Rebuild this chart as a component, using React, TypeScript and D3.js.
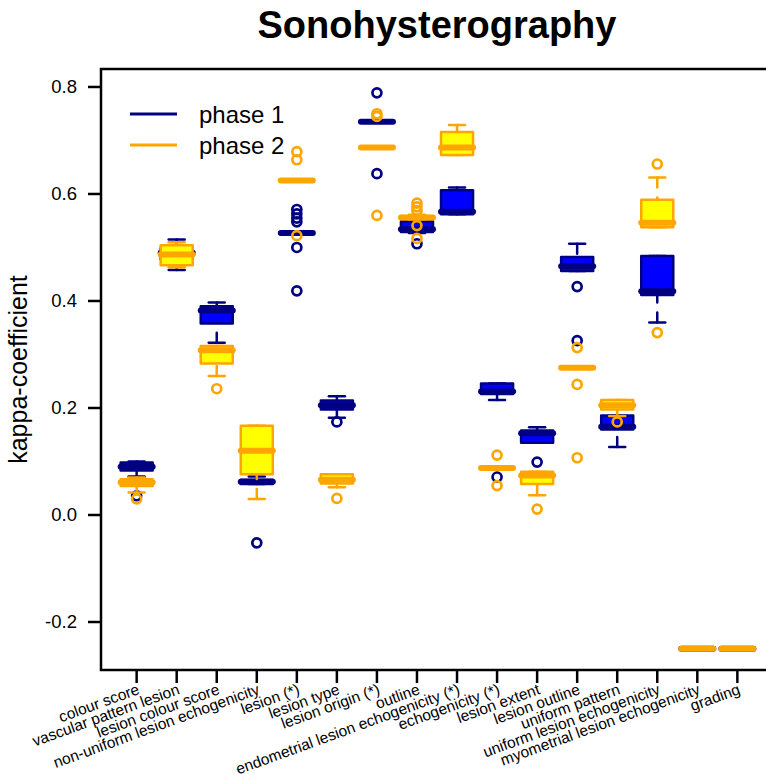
import React from 'react';
import * as d3 from 'd3';

const categories = [
  'colour score',
  'vascular pattern lesion',
  'lesion colour score',
  'non-uniform lesion echogenicity',
  'lesion (*)',
  'lesion type',
  'lesion origin (*)',
  'outline',
  'endometrial lesion echogenicity (*)',
  'echogenicity (*)',
  'lesion extent',
  'lesion outline',
  'uniform pattern',
  'uniform lesion echogenicity',
  'myometrial lesion echogenicity',
  'grading',
];

// [lower whisker, Q1, median, Q3, upper whisker]
const phase1Stats = [
  [0.072, 0.083, 0.09, 0.098, 0.1],
  [0.458, 0.478, 0.49, 0.499, 0.515],
  [0.322, 0.358, 0.382, 0.39, 0.397],
  [0.058, 0.058, 0.062, 0.066, 0.072],
  [0.527, 0.527, 0.527, 0.527, 0.527],
  [0.182, 0.197, 0.205, 0.214, 0.222],
  [0.735, 0.735, 0.735, 0.735, 0.735],
  [0.527, 0.529, 0.534, 0.549, 0.549],
  [0.562, 0.562, 0.567, 0.607, 0.612],
  [0.215, 0.226, 0.231, 0.246, 0.246],
  [0.135, 0.135, 0.153, 0.158, 0.164],
  [0.456, 0.456, 0.465, 0.482, 0.507],
  [0.127, 0.16, 0.165, 0.186, 0.186],
  [0.36, 0.411, 0.418, 0.484, 0.484],
  [-0.25, -0.25, -0.25, -0.25, -0.25],
  [-0.25, -0.25, -0.25, -0.25, -0.25],
];
const phase1Outliers = [
  [0.036],
  [],
  [],
  [-0.052],
  [0.571, 0.563, 0.555, 0.548, 0.5, 0.419],
  [0.174],
  [0.789, 0.638],
  [0.507],
  [],
  [0.071],
  [0.099],
  [0.427, 0.326],
  [],
  [],
  [],
  [],
];

const phase2Stats = [
  [0.042, 0.054, 0.061, 0.067, 0.07],
  [0.463, 0.467, 0.487, 0.504, 0.51],
  [0.26, 0.283, 0.308, 0.316, 0.316],
  [0.03, 0.076, 0.12, 0.167, 0.167],
  [0.625, 0.625, 0.625, 0.625, 0.625],
  [0.052, 0.059, 0.066, 0.076, 0.076],
  [0.687, 0.687, 0.687, 0.687, 0.687],
  [0.553, 0.553, 0.556, 0.559, 0.561],
  [0.673, 0.673, 0.687, 0.716, 0.729],
  [0.088, 0.088, 0.088, 0.088, 0.088],
  [0.037, 0.058, 0.074, 0.081, 0.081],
  [0.275, 0.275, 0.275, 0.275, 0.275],
  [0.185, 0.197, 0.205, 0.215, 0.215],
  [0.538, 0.538, 0.546, 0.589, 0.631],
  [-0.25, -0.25, -0.25, -0.25, -0.25],
  [-0.25, -0.25, -0.25, -0.25, -0.25],
];
const phase2Outliers = [
  [0.03],
  [],
  [0.236],
  [],
  [0.679, 0.664, 0.522],
  [0.031],
  [0.75, 0.745, 0.56],
  [0.583, 0.576, 0.569, 0.541, 0.517],
  [],
  [0.112, 0.055],
  [0.011],
  [0.313, 0.244, 0.107],
  [0.174],
  [0.656, 0.341],
  [],
  [],
];

const yTicks = [-0.2, 0.0, 0.2, 0.4, 0.6, 0.8];
const seriesNames = ['phase 1', 'phase 2'];

const width = 766;
const height = 774;
const plotLeft = 101;
const plotRight = 773;
const plotTop = 69;
const plotBottom = 670;
const font = '"Liberation Sans", Arial, Helvetica, sans-serif';

const x = d3.scaleLinear([0.11, 16.89], [plotLeft, plotRight]);
const y = d3.scaleLinear([-0.2897, 0.8336], [plotBottom, plotTop]);

type SeriesProps = {
  stats: number[][];
  outliers: number[][];
  border: string;
  fill: string;
};

function BoxSeries({ stats, outliers, border, fill }: SeriesProps) {
  const hw = x(1.4) - x(1);
  const sw = x(1.2) - x(1);
  return (
    <g>
      {stats.map((s, i) => {
        const cx = x(i + 1);
        return (
          <g key={i}>
            {/* whiskers are dashed and drawn from the end towards the hinge, as R does */}
            <line x1={cx} x2={cx} y1={y(s[0])} y2={y(s[1])} stroke={border} strokeWidth={2.5}
              strokeDasharray="10 10" strokeLinecap="round" />
            <line x1={cx} x2={cx} y1={y(s[4])} y2={y(s[3])} stroke={border} strokeWidth={2.5}
              strokeDasharray="10 10" strokeLinecap="round" />
            <line x1={cx - sw} x2={cx + sw} y1={y(s[0])} y2={y(s[0])} stroke={border} strokeWidth={2.5}
              strokeLinecap="round" />
            <line x1={cx - sw} x2={cx + sw} y1={y(s[4])} y2={y(s[4])} stroke={border} strokeWidth={2.5}
              strokeLinecap="round" />
            <rect x={cx - hw} y={y(s[3])} width={2 * hw} height={y(s[1]) - y(s[3])}
              fill={fill} stroke={border} strokeWidth={2.5} strokeLinejoin="round" />
            <line x1={cx - hw} x2={cx + hw} y1={y(s[2])} y2={y(s[2])} stroke={border} strokeWidth={6}
              strokeLinecap="round" />
            {outliers[i].map((o, j) => (
              <circle key={j} cx={cx} cy={y(o)} r={4.5} fill="none" stroke={border} strokeWidth={2.7} />
            ))}
          </g>
        );
      })}
    </g>
  );
}

export default function App() {
  return (
    <svg width={width} height={height} style={{ position: 'absolute', left: 0, top: 0, background: '#fff' }}
      fontFamily={font}>
      <text x={437} y={38} textAnchor="middle" fontSize={38} fontWeight="bold">Sonohysterography</text>

      <BoxSeries stats={phase1Stats} outliers={phase1Outliers} border="#000080" fill="#0000ff" />
      <BoxSeries stats={phase2Stats} outliers={phase2Outliers} border="#ffa500" fill="#ffff00" />

      <rect x={plotLeft} y={plotTop} width={plotRight - plotLeft} height={plotBottom - plotTop}
        fill="none" stroke="#000" strokeWidth={2.5} />

      {yTicks.map(t => (
        <g key={t}>
          <line x1={plotLeft - 13} x2={plotLeft} y1={y(t)} y2={y(t)} stroke="#000" strokeWidth={2.5} />
          <text x={77} y={y(t)} dy="0.35em" textAnchor="end" fontSize={18.5}>{d3.format('.1f')(t).replace('−', '-')}</text>
        </g>
      ))}

      {categories.map((c, i) => (
        <g key={c}>
          <line x1={x(i + 1)} x2={x(i + 1)} y1={plotBottom} y2={plotBottom + 13} stroke="#000" strokeWidth={2.5} />
          <text transform={`translate(${x(i + 1)},${plotBottom + 13}) rotate(-20)`} textAnchor="end"
            dy="0.72em" fontSize={15.5}>{c}</text>
        </g>
      ))}

      <text transform={`translate(27,${(plotTop + plotBottom) / 2}) rotate(-90)`} textAnchor="middle"
        fontSize={25}>kappa-coefficient</text>

      {seriesNames.map((n, i) => (
        <g key={n}>
          <line x1={130} x2={177} y1={114 + i * 31} y2={114 + i * 31} stroke={i ? '#ffa500' : '#000080'}
            strokeWidth={3} />
          <text x={199} y={114 + i * 31} dy="0.36em" fontSize={24}>{n}</text>
        </g>
      ))}
    </svg>
  );
}
